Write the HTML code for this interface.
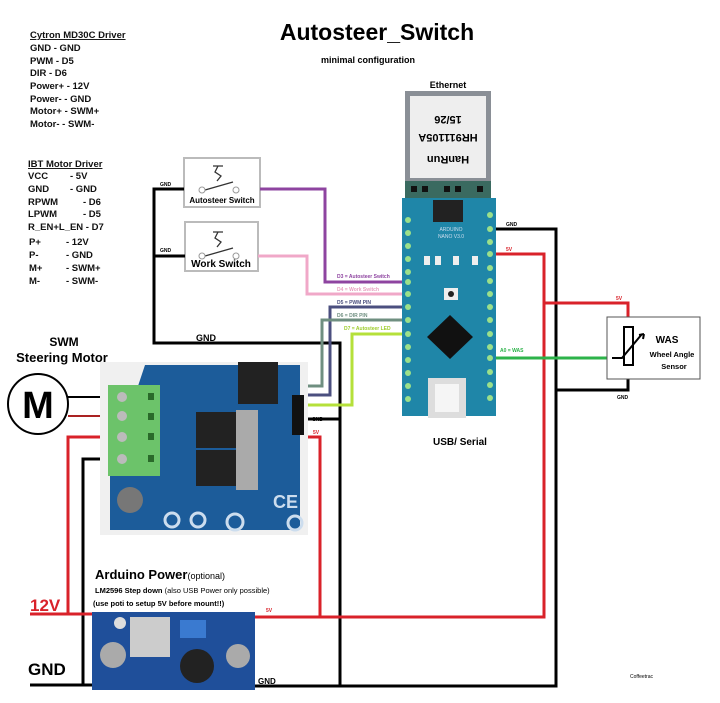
<!DOCTYPE html>
<html><head><meta charset="utf-8"><style>
html,body{margin:0;padding:0;background:#fff;}
svg{display:block;font-family:"Liberation Sans",sans-serif;}
</style></head><body>
<svg width="720" height="703" viewBox="0 0 720 703" xmlns="http://www.w3.org/2000/svg">
<rect width="720" height="703" fill="#fff"/>
<!-- Title -->
<text x="377" y="40" font-size="23" font-weight="bold" text-anchor="middle">Autosteer_Switch</text>
<text x="368" y="63" font-size="9" font-weight="bold" text-anchor="middle">minimal configuration</text>
<!-- left text -->
<g font-size="9.5" font-weight="bold" fill="#111" xml:space="preserve">
<text x="30" y="38" text-decoration="underline">Cytron MD30C Driver</text>
<text x="30" y="51">GND   -   GND</text>
<text x="30" y="64">PWM  -   D5</text>
<text x="30" y="76">DIR     -   D6</text>
<text x="30" y="89">Power+  - 12V</text>
<text x="30" y="102">Power-   - GND</text>
<text x="30" y="114">Motor+  - SWM+</text>
<text x="30" y="127">Motor-   - SWM-</text>
<text x="28" y="167" text-decoration="underline">IBT Motor Driver</text>
<text x="28" y="179">VCC</text><text x="70" y="179">-  5V</text>
<text x="28" y="192">GND</text><text x="70" y="192">- GND</text>
<text x="28" y="205">RPWM</text><text x="83" y="205">- D6</text>
<text x="28" y="217">LPWM</text><text x="83" y="217">- D5</text>
<text x="28" y="230">R_EN+L_EN - D7</text>
<text x="29" y="245">P+</text><text x="66" y="245">-  12V</text>
<text x="29" y="258">P-</text><text x="66" y="258">-  GND</text>
<text x="29" y="271">M+</text><text x="66" y="271">- SWM+</text>
<text x="29" y="284">M-</text><text x="66" y="284">- SWM-</text>
</g>
<!-- switches -->
<g fill="#fff" stroke="#bbb" stroke-width="2">
<rect x="184" y="158" width="76" height="49"/>
<rect x="185" y="222" width="73" height="49"/>
</g>
<g stroke="#333" stroke-width="1.3" fill="none">
<path d="M213 166h10M218 166l-3 6 6 4-4 5M205 190l28 -8"/>
<path d="M213 232h10M218 232l-3 6 6 4-4 5M205 256l28 -8"/>
</g>
<g fill="#fff" stroke="#999"><circle cx="202" cy="190" r="3"/><circle cx="236" cy="190" r="3"/><circle cx="202" cy="256" r="3"/><circle cx="236" cy="256" r="3"/></g>
<text x="222" y="203" font-size="8" font-weight="bold" text-anchor="middle">Autosteer Switch</text>
<text x="221" y="267" font-size="10" font-weight="bold" text-anchor="middle">Work Switch</text>
<!-- black wires -->
<g stroke="#000" stroke-width="3" fill="none">
<path d="M184 189H154V343H340V686"/>
<path d="M185 256H154"/>
<path d="M240 686H556V229H490"/>
<path d="M556 390H628V378"/>
<path d="M30 685H97M83 685V459H120"/>
<path d="M305 419H340"/>
</g>
<g stroke="#000" stroke-width="2"><path d="M68 397H120"/></g>
<!-- red wires -->
<g stroke="#d9222a" stroke-width="3" fill="none">
<path d="M30 614H97M68 614V437H120"/>
<path d="M297 428l4 9H320V617M250 617H544V254H490"/>
<path d="M544 303H628V320"/>
</g>
<path d="M68 416H120" stroke="#a22" stroke-width="2"/>
<!-- green WAS -->
<path d="M490 358H622" stroke="#2db34a" stroke-width="3"/>
<!-- colored signal wires -->
<g fill="none" stroke-width="3">
<path d="M260 189H325V282H407" stroke="#8e44a0"/>
<path d="M258 256H307V294H407" stroke="#f0a8c8"/>
<path d="M407 307H330V395H300" stroke="#4b4f7f"/>
<path d="M407 320H322V386H300" stroke="#6f8f80"/>
<path d="M407 334H352V405H300" stroke="#b5e03a"/>
</g>
<!-- wire labels -->
<g font-size="5" font-weight="bold">
<text x="160" y="186">GND</text><text x="160" y="252">GND</text>
<text x="337" y="278" fill="#8e44a0">D3 = Autosteer Switch</text>
<text x="337" y="291" fill="#e8a0c0">D4 = Work Switch</text>
<text x="337" y="304" fill="#4b4f7f">D5 = PWM PIN</text>
<text x="337" y="317" fill="#6f8f80">D6 = DIR PIN</text>
<text x="344" y="330" fill="#9ccc2a">D7 = Autosteer LED</text>
<text x="506" y="226">GND</text><text x="506" y="251" fill="#d9222a">5V</text>
<text x="500" y="352" fill="#2db34a">A0 = WAS</text>
<text x="616" y="300" fill="#d9222a">5V</text>
<text x="617" y="399">GND</text>
<text x="312" y="421">GND</text><text x="313" y="434" fill="#d9222a">5V</text>
<text x="266" y="612" fill="#d9222a">5V</text>
<text x="630" y="678" font-weight="normal">Coffeetrac</text>
</g>
<text x="196" y="341" font-size="9" font-weight="bold">GND</text>
<!-- Ethernet -->
<text x="448" y="88" font-size="9" font-weight="bold" text-anchor="middle">Ethernet</text>
<rect x="405" y="91" width="86" height="90" fill="#8a8f96"/>
<rect x="410" y="96" width="76" height="82" fill="#eee"/>
<g font-size="11" font-weight="bold" text-anchor="middle" transform="rotate(180 448 137)">
<text x="448" y="118">HanRun</text><text x="448" y="140">HR911105A</text><text x="448" y="158">15/26</text></g>
<rect x="405" y="181" width="86" height="17" fill="#3a6a60"/>
<g fill="#111"><rect x="411" y="186" width="6" height="6"/><rect x="422" y="186" width="6" height="6"/><rect x="444" y="186" width="6" height="6"/><rect x="455" y="186" width="6" height="6"/><rect x="477" y="186" width="6" height="6"/></g>
<!-- Arduino Nano -->
<rect x="402" y="198" width="94" height="218" fill="#1f86a8"/>
<g fill="#9be08a">
<circle cx="408" cy="220" r="3"/><circle cx="408" cy="233" r="3"/><circle cx="408" cy="246" r="3"/><circle cx="408" cy="259" r="3"/><circle cx="408" cy="272" r="3"/><circle cx="408" cy="282" r="3"/><circle cx="408" cy="294" r="3"/><circle cx="408" cy="307" r="3"/><circle cx="408" cy="320" r="3"/><circle cx="408" cy="334" r="3"/><circle cx="408" cy="347" r="3"/><circle cx="408" cy="360" r="3"/><circle cx="408" cy="373" r="3"/><circle cx="408" cy="386" r="3"/><circle cx="408" cy="399" r="3"/>
<circle cx="490" cy="215" r="3"/><circle cx="490" cy="229" r="3"/><circle cx="490" cy="242" r="3"/><circle cx="490" cy="254" r="3"/><circle cx="490" cy="268" r="3"/><circle cx="490" cy="281" r="3"/><circle cx="490" cy="294" r="3"/><circle cx="490" cy="307" r="3"/><circle cx="490" cy="320" r="3"/><circle cx="490" cy="334" r="3"/><circle cx="490" cy="347" r="3"/><circle cx="490" cy="358" r="3"/><circle cx="490" cy="372" r="3"/><circle cx="490" cy="385" r="3"/><circle cx="490" cy="398" r="3"/>
</g>
<g fill="#222"><rect x="433" y="200" width="30" height="22"/></g>
<text x="451" y="231" font-size="5" fill="#cde" text-anchor="middle">ARDUINO</text>
<text x="451" y="238" font-size="5" fill="#cde" text-anchor="middle">NANO V3.0</text>
<g fill="#eee"><rect x="424" y="256" width="6" height="9"/><rect x="435" y="256" width="6" height="9"/><rect x="453" y="256" width="6" height="9"/><rect x="472" y="256" width="6" height="9"/></g>
<rect x="444" y="288" width="14" height="12" fill="#eee"/><circle cx="451" cy="294" r="3" fill="#222"/>
<polygon points="450,315 473,337 450,359 427,337" fill="#111"/>
<rect x="428" y="378" width="38" height="40" fill="#ddd"/>
<rect x="435" y="384" width="24" height="28" fill="#f5f5f5"/>
<text x="460" y="445" font-size="10" font-weight="bold" text-anchor="middle">USB/ Serial</text>
<!-- WAS -->
<rect x="607" y="317" width="93" height="62" fill="#fff" stroke="#555" stroke-width="1"/>
<rect x="624" y="327" width="9" height="38" fill="#fff" stroke="#000" stroke-width="2"/>
<path d="M612 358h10l20-24M644 334l-5 1M644 334l-1 5" stroke="#000" stroke-width="2" fill="none"/>
<text x="667" y="343" font-size="10" font-weight="bold" text-anchor="middle">WAS</text>
<text x="672" y="357" font-size="7.5" font-weight="bold" text-anchor="middle">Wheel Angle</text>
<text x="674" y="369" font-size="7.5" font-weight="bold" text-anchor="middle">Sensor</text>
<!-- Motor -->
<text x="64" y="346" font-size="12" font-weight="bold" text-anchor="middle">SWM</text>
<text x="62" y="362" font-size="13" font-weight="bold" text-anchor="middle">Steering Motor</text>
<circle cx="38" cy="404" r="30" fill="#fff" stroke="#000" stroke-width="2"/>
<text x="38" y="418" font-size="38" font-weight="bold" text-anchor="middle">M</text>
<!-- IBT board -->
<rect x="100" y="362" width="208" height="173" fill="#f0f0f0"/>
<path d="M145 365H300V530H110V470Z" fill="#1c5c9a"/>
<rect x="108" y="385" width="52" height="91" fill="#6cc36a"/>
<g fill="#bbb"><circle cx="122" cy="397" r="5"/><circle cx="122" cy="416" r="5"/><circle cx="122" cy="437" r="5"/><circle cx="122" cy="459" r="5"/></g>
<g fill="#2a6a2a"><rect x="148" y="393" width="6" height="7"/><rect x="148" y="413" width="6" height="7"/><rect x="148" y="433" width="6" height="7"/><rect x="148" y="455" width="6" height="7"/></g>
<rect x="238" y="362" width="40" height="42" fill="#222"/>
<rect x="196" y="412" width="42" height="36" fill="#222"/>
<rect x="196" y="450" width="42" height="36" fill="#222"/>
<rect x="236" y="410" width="22" height="80" fill="#aaa"/>
<circle cx="130" cy="500" r="13" fill="#777"/>
<g fill="none" stroke="#cde" stroke-width="3"><circle cx="172" cy="520" r="7"/><circle cx="198" cy="520" r="7"/><circle cx="235" cy="522" r="8"/><circle cx="295" cy="523" r="7"/></g>
<text x="273" y="508" font-size="18" fill="#cde" font-weight="bold">CE</text>
<rect x="292" y="395" width="12" height="40" fill="#111"/>
<!-- Power text -->
<text x="95" y="579" font-size="13" font-weight="bold">Arduino Power<tspan font-size="9" font-weight="normal">(optional)</tspan></text>
<text x="95" y="593" font-size="7.5" font-weight="bold">LM2596 Step down <tspan font-weight="normal"> (also USB Power only possible)</tspan></text>
<text x="93" y="606" font-size="7.5" font-weight="bold">(use poti to setup 5V before mount!!)</text>
<text x="30" y="611" font-size="17" font-weight="bold" fill="#d9222a">12V</text>
<text x="28" y="675" font-size="17" font-weight="bold">GND</text>
<!-- LM2596 -->
<rect x="92" y="612" width="163" height="78" fill="#1f4f9a"/>
<rect x="130" y="617" width="40" height="40" fill="#ccc"/>
<rect x="180" y="620" width="26" height="18" fill="#3a7ad0"/>
<circle cx="197" cy="666" r="17" fill="#222"/>
<circle cx="113" cy="655" r="13" fill="#aaa"/>
<circle cx="238" cy="656" r="12" fill="#aaa"/>
<circle cx="120" cy="623" r="6" fill="#ddd"/>
<text x="258" y="684" font-size="8" font-weight="bold">GND</text>
</svg>
</body></html>
